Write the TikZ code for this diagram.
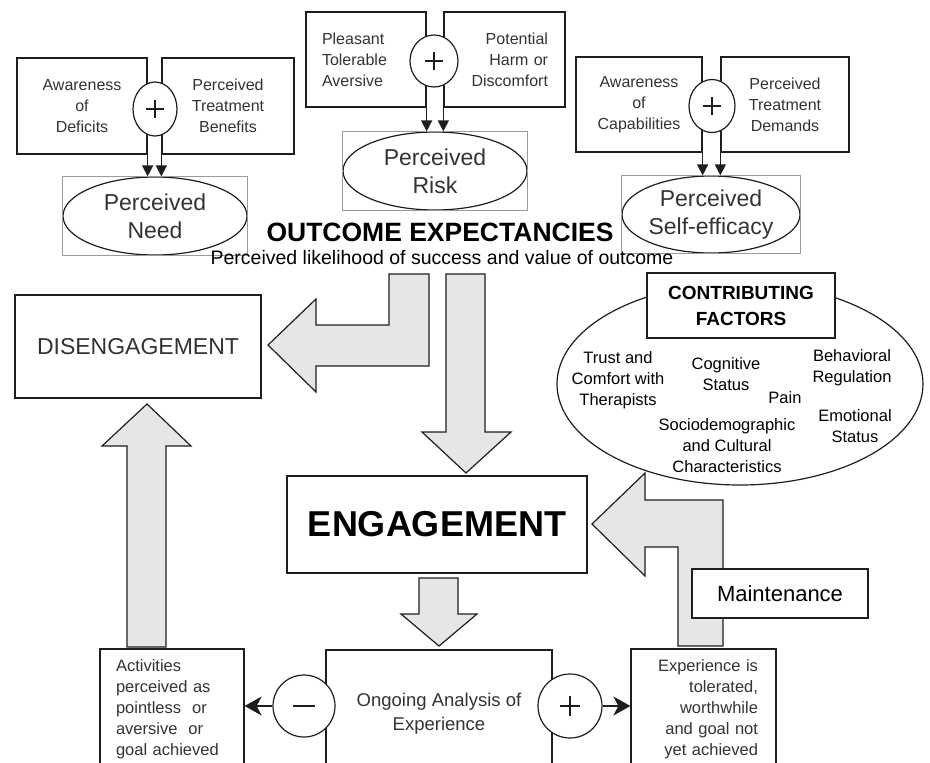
\documentclass[tikz,border=0pt]{standalone}
\usepackage{fontspec}
\setmainfont{Liberation Sans}
\usetikzlibrary{shapes.geometric,arrows.meta}
\definecolor{boxline}{HTML}{1E1E1E}
\definecolor{boxtext}{HTML}{333333}
\definecolor{blockfill}{HTML}{E6E6E6}
\definecolor{framegray}{HTML}{9A9A9A}

\tikzset{
  inputbox/.style={draw=boxline, line width=1.3pt, fill=white, inner sep=0pt, text=boxtext,
    font=\fontsize{16}{21}\selectfont, align=center},
  sumnode/.style={ellipse, draw=boxline, line width=1.2pt, fill=white, inner sep=0pt,
    minimum width=46pt, minimum height=53pt},
  plussign/.style 2 args={path picture={
    \draw[line width=#1] ([xshift=-#2]path picture bounding box.center) -- ([xshift=#2]path picture bounding box.center)
      ([yshift=-#2]path picture bounding box.center) -- ([yshift=#2]path picture bounding box.center);}},
  minussign/.style={path picture={
    \draw[line width=1.2pt] ([xshift=-11pt]path picture bounding box.center) -- ([xshift=11pt]path picture bounding box.center);}},
  outcome/.style={ellipse, draw=boxline, line width=1.2pt, fill=white, inner sep=0pt, align=center,
    text=boxtext, font=\fontsize{23}{28}\selectfont},
  frame/.style={draw=framegray, line width=0.6pt},
  feed/.style={-{Triangle[length=11pt,width=11pt]}, line width=1.3pt, draw=boxline},
  stage/.style={draw=boxline, line width=1.3pt, fill=white, inner sep=0pt, align=center},
  bigarrow/.style={draw=boxline, fill=blockfill, line width=1.2pt},
  factor/.style={align=center, inner sep=0pt, font=\fontsize{16.5}{21}\selectfont},
  decision/.style={circle, draw=boxline, line width=1.2pt, fill=white, inner sep=0pt, minimum size=62pt},
  branch/.style={-{Stealth[length=17pt,width=19pt,inset=5pt]}, line width=1.3pt, draw=boxline},
}

\begin{document}
\begin{tikzpicture}[x=1pt, y=-1pt]
\useasboundingbox (0,0) rectangle (930,763);
\clip (0,0) rectangle (930,763);

% block arrows
\draw[bigarrow] (429,274) -- (429,366) -- (316,366) -- (316,392) -- (268,345) -- (316,299)
  -- (316,325) -- (389,325) -- (389,274) -- cycle;
\draw[bigarrow] (446,274) -- (485,274) -- (485,432) -- (511,432) -- (466,473) -- (422,432)
  -- (446,432) -- cycle;
\draw[bigarrow] (127,647) -- (127,446) -- (102,446) -- (147,404) -- (191,446) -- (166,446)
  -- (166,647) -- cycle;
\draw[bigarrow] (419,578) -- (458,578) -- (458,614) -- (477,614) -- (439,646) -- (401,614)
  -- (419,614) -- cycle;
\draw[bigarrow] (592,524) -- (645,473) -- (645,500) -- (723,500) -- (723,646) -- (678,646)
  -- (678,547) -- (645,547) -- (645,576) -- cycle;

% perceived need
\node[inputbox, minimum width=130pt, minimum height=96pt] (deficits) at (82,106) {Awareness\\of\\Deficits};
\node[inputbox, minimum width=132pt, minimum height=96pt] (benefits) at (228,106) {Perceived\\Treatment\\Benefits};
\node[sumnode, plussign={1.8pt}{9pt}, minimum width=44pt, minimum height=54pt] (needplus) at (155,109) {};
\node[outcome, minimum width=184pt, minimum height=78pt] (need) at (155,216) {Perceived\\Need};
\draw[frame] (need.west |- need.north) rectangle (need.east |- need.south);
\draw[feed] (deficits.east |- needplus.south) -- (deficits.east |- need.north);
\draw[feed] (benefits.west |- needplus.south) -- (benefits.west |- need.north);

% perceived risk
\node[inputbox, minimum width=120pt, minimum height=95pt, text width=88pt, align=left] (pleasant) at (366,59.5) {Pleasant\\Tolerable\\Aversive};
\node[inputbox, minimum width=121pt, minimum height=95pt, text width=87pt, align=right] (harm) at (504.5,59.5) {Potential\\Harm or\\Discomfort};
\node[sumnode, plussign={1.8pt}{9pt}, minimum width=48pt, minimum height=52pt] (riskplus) at (434,61) {};
\node[outcome, minimum width=184pt, minimum height=78pt] (risk) at (435,171) {Perceived\\Risk};
\draw[frame] (risk.west |- risk.north) rectangle (risk.east |- risk.south);
\draw[feed] (pleasant.east |- riskplus.south) -- (pleasant.east |- risk.north);
\draw[feed] (harm.west |- riskplus.south) -- (harm.west |- risk.north);

% perceived self-efficacy
\node[inputbox, minimum width=126pt, minimum height=95pt] (capab) at (639,104.5) {Awareness\\of\\Capabilities};
\node[inputbox, minimum width=128pt, minimum height=95pt] (demands) at (785,104.5) {Perceived\\Treatment\\Demands};
\node[sumnode, plussign={1.8pt}{9pt}] (effplus) at (712,106) {};
\node[outcome, minimum width=178pt, minimum height=77pt] (efficacy) at (711,214.5) {Perceived\\Self-efficacy};
\draw[frame] (efficacy.west |- efficacy.north) rectangle (efficacy.east |- efficacy.south);
\draw[feed] (capab.east |- effplus.south) -- (capab.east |- efficacy.north);
\draw[feed] (demands.west |- effplus.south) -- (demands.west |- efficacy.north);

\node[font=\bfseries\fontsize{26.5}{30}\selectfont] (expect) at (440,232) {OUTCOME EXPECTANCIES};
\node[font=\fontsize{19.5}{22}\selectfont] (likely) at (442,258) {Perceived likelihood of success and value of outcome};

% stages
\node[stage, minimum width=246pt, minimum height=103pt, text=boxtext, font=\fontsize{23}{28}\selectfont] (diseng) at (138,346.5) {DISENGAGEMENT};
\node[stage, minimum width=300pt, minimum height=97pt, font=\bfseries\fontsize{36}{42}\selectfont] (engage) at (437,524.5) {ENGAGEMENT};
\node[stage, minimum width=226pt, minimum height=128pt, text=boxtext, font=\fontsize{18.5}{24}\selectfont] (ongoing) at (439,714) {Ongoing Analysis of\\Experience};
\node[inputbox, minimum width=144pt, minimum height=120pt, text width=112pt, align=left, font=\fontsize{16.5}{21}\selectfont] (pointless) at (172,709)
  {Activities\\perceived as\\pointless~ or\\aversive~ or\\goal achieved};
\node[inputbox, minimum width=145pt, minimum height=120pt, text width=109pt, align=right, font=\fontsize{16.5}{21}\selectfont] (tolerated) at (703.5,709)
  {Experience is\\tolerated,\\worthwhile\\and goal not\\yet achieved};
\node[decision, minussign] (minus) at (304,706) {};
\node[decision, plussign={1.2pt}{10pt}, minimum size=64pt] (plus) at (570,706) {};
\draw[branch] (minus.west) -- (minus.west -| pointless.east);
\draw[branch] (plus.east) -- (plus.east -| tolerated.west);

\node[stage, minimum width=176pt, minimum height=49pt, font=\fontsize{22}{26}\selectfont] (maint) at (780,593.5) {Maintenance};

% contributing factors
\node[ellipse, draw=boxline, line width=1.2pt, fill=white, minimum width=366pt, minimum height=202pt] (factors) at (740,384) {};
\node[stage, minimum width=188pt, minimum height=65pt, font=\bfseries\fontsize{19}{26}\selectfont] (contrib) at (741,305.5) {CONTRIBUTING\\FACTORS};
\node[factor] (trust) at (618,380) {Trust and\\Comfort with\\Therapists};
\node[factor] (cognitive) at (726,374) {Cognitive\\Status};
\node[factor] (behavior) at (852,368) {Behavioral\\Regulation};
\node[factor] (pain) at (785,398) {Pain};
\node[factor] (emotion) at (855,426) {Emotional\\Status};
\node[factor] (socio) at (727,446) {Sociodemographic\\and Cultural\\Characteristics};
\end{tikzpicture}
\end{document}
